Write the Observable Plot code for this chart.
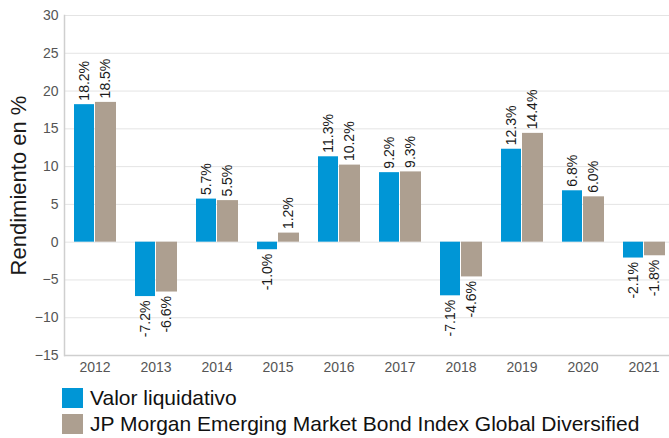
<!DOCTYPE html>
<html><head><meta charset="utf-8">
<script src="https://cdn.jsdelivr.net/npm/d3@7"></script>
<script src="https://cdn.jsdelivr.net/npm/@observablehq/plot@0.6"></script>
<style>
body{margin:0;background:#fff;font-family:"Liberation Sans",Arial,sans-serif;}
#legend{margin-left:62px;margin-top:5px}
.row{display:flex;align-items:center;height:26px;font-size:21px;color:#111;white-space:nowrap}
.sw{width:21px;height:20px;margin-right:7px;flex:none}
</style></head><body><div id="chart"></div><div id="legend"></div>
<script>
const years = ["2012","2013","2014","2015","2016","2017","2018","2019","2020","2021"];
const valor = [18.2, -7.2, 5.7, -1.0, 11.3, 9.2, -7.1, 12.3, 6.8, -2.1];
const indice = [18.5, -6.6, 5.5, 1.2, 10.2, 9.3, -4.6, 14.4, 6.0, -1.8];
const seriesNames = ["Valor liquidativo", "JP Morgan Emerging Market Bond Index Global Diversified"];
const colors = ["#0096d6", "#ad9f90"];
const yTicks = [-15, -10, -5, 0, 5, 10, 15, 20, 25, 30];

const blue = years.map((year, i) => ({year, value: valor[i]}));
const gray = years.map((year, i) => ({year, value: indice[i]}));
const fmt = d => d.value.toFixed(1) + "%";
const labelOpts = {x: "year", y: "value", text: fmt, rotate: -90, fontSize: 14, fill: "#1a1a1a"};

const chart = Plot.plot({
  width: 669, height: 380,
  marginLeft: 64, marginRight: 0, marginTop: 15, marginBottom: 25,
  style: {fontFamily: "'Liberation Sans', Arial, sans-serif", background: "#fff"},
  x: {domain: years, range: [64, 674], padding: 0},
  y: {domain: [-15, 30]},
  marks: [
    Plot.ruleY(yTicks, {stroke: "#e4e4e4", strokeWidth: 1}),
    Plot.ruleY([-15], {stroke: "#cfcfcf", strokeWidth: 1.5}),
    Plot.frame({anchor: "left", stroke: "#cfcfcf", strokeWidth: 1.5}),
    Plot.barY(blue, {x: "year", y: "value", fill: colors[0], insetLeft: 10, insetRight: 31}),
    Plot.barY(gray, {x: "year", y: "value", fill: colors[1], insetLeft: 31, insetRight: 9}),
    Plot.text(blue.filter(d => d.value >= 0), {...labelOpts, textAnchor: "start", dx: -10, dy: -4}),
    Plot.text(blue.filter(d => d.value < 0), {...labelOpts, textAnchor: "end", dx: -10, dy: 4}),
    Plot.text(gray.filter(d => d.value >= 0), {...labelOpts, textAnchor: "start", dx: 11, dy: -4}),
    Plot.text(gray.filter(d => d.value < 0), {...labelOpts, textAnchor: "end", dx: 11, dy: 4}),
    Plot.axisY(yTicks, {tickSize: 0, tickPadding: 6, fontSize: 14, color: "#555", label: null}),
    Plot.axisX({tickSize: 0, tickPadding: 7, fontSize: 14, color: "#555", label: null}),
    Plot.text(["Rendimiento en %"], {frameAnchor: "left", textAnchor: "middle", rotate: -90, dx: -46, fontSize: 22, fill: "#1a1a1a"})
  ]
});
document.getElementById("chart").appendChild(chart);

const legend = document.getElementById("legend");
seriesNames.forEach((name, i) => {
  const row = document.createElement("div");
  row.className = "row";
  const sw = document.createElement("div");
  sw.className = "sw";
  sw.style.background = colors[i];
  const t = document.createElement("span");
  t.textContent = name;
  row.appendChild(sw);
  row.appendChild(t);
  legend.appendChild(row);
});
</script></body></html>
